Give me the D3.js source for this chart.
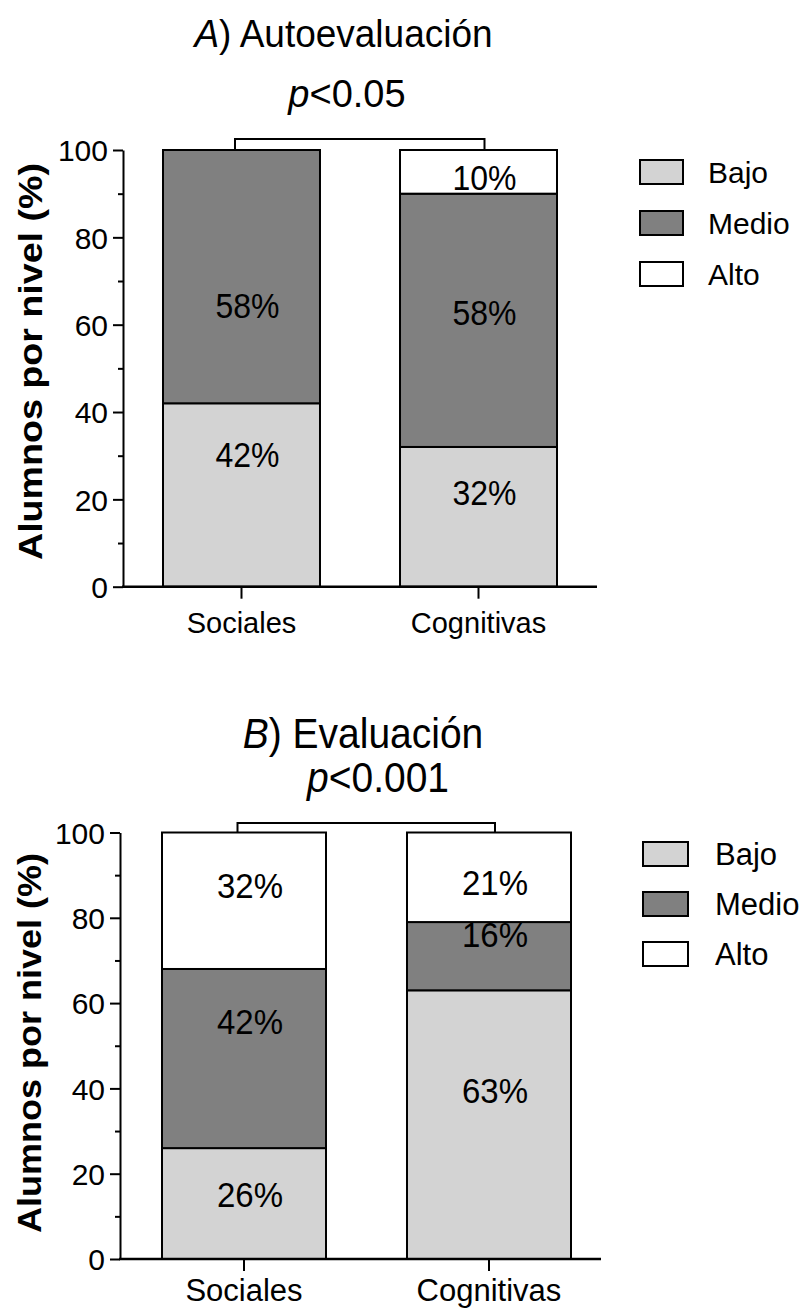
<!DOCTYPE html>
<html>
<head>
<meta charset="utf-8">
<script src="https://cdn.jsdelivr.net/npm/d3@7"></script>
<style>
  html, body { margin: 0; padding: 0; background: #fff; }
  svg { display: block; font-family: "Liberation Sans", Arial, sans-serif; }
</style>
</head>
<body>
<svg id="chart" width="808" height="1308"></svg>
<script>
// ---------- data ----------
const categories = ["Sociales", "Cognitivas"];
const levels = ["Bajo", "Medio", "Alto"];
const levelColors = ["#d3d3d3", "#808080", "#ffffff"];
const yTicks = [0, 20, 40, 60, 80, 100];
const yMinorTicks = [10, 30, 50, 70, 90];

// Panel A: Autoevaluación
const bajoA = [42, 32];
const medioA = [58, 58];
const altoA = [0, 10];
// label anchor (value units) per level, per category
const labelPosA = [[30.2, 21.5], [64.3, 62.7], [null, 93.8]];

// Panel B: Evaluación
const bajoB = [26, 63];
const medioB = [42, 16];
const altoB = [32, 21];
const labelPosB = [[15.2, 39.6], [55.8, 76.0], [87.7, 88.2]];

// ---------- drawing ----------
const svg = d3.select("#chart");

function drawPanel(cfg, series, labelPos) {
  const g = svg.append("g");
  const y = d3.scaleLinear().domain([0, 100]).range([cfg.y0, cfg.y100]);
  const x = d3.scaleBand().domain(categories).range(cfg.barRange)
    .paddingInner(cfg.padInner).paddingOuter(0);

  // stacked data
  const rows = categories.map((c, i) => {
    const r = { cat: c };
    levels.forEach((l, j) => r[l] = series[j][i]);
    return r;
  });
  const stack = d3.stack().keys(levels)(rows);

  // bars
  stack.forEach((layer, j) => {
    g.append("g").selectAll("rect")
      .data(layer.filter(d => d[1] - d[0] > 0))
      .join("rect")
      .attr("x", d => x(d.data.cat))
      .attr("width", x.bandwidth())
      .attr("y", d => y(d[1]))
      .attr("height", d => y(d[0]) - y(d[1]))
      .attr("fill", levelColors[j])
      .attr("stroke", "#000")
      .attr("stroke-width", 2);
  });

  // percent labels
  levels.forEach((l, j) => {
    categories.forEach((c, i) => {
      const v = series[j][i];
      if (!v) return;
      g.append("text")
        .attr("transform", `translate(${x(c) + x.bandwidth() / 2 + 6},${y(labelPos[j][i])}) scale(1,${cfg.pctStretch})`)
        .attr("dy", "0.36em")
        .attr("text-anchor", "middle")
        .attr("font-size", cfg.pctSize)
        .text(v + "%");
    });
  });

  // y axis
  const yAxis = g.append("g")
    .attr("transform", `translate(${cfg.axisX},0)`)
    .call(d3.axisLeft(y).tickValues(yTicks).tickSize(10).tickSizeOuter(0).tickPadding(5));
  yAxis.select(".domain").attr("stroke-width", 2);
  yAxis.selectAll(".tick line").attr("stroke-width", 2);
  yAxis.selectAll(".tick text").attr("font-size", cfg.tickSize)
    .attr("font-family", '"Liberation Sans", Arial, sans-serif').attr("dy", "0.36em");
  const yMinor = g.append("g")
    .attr("transform", `translate(${cfg.axisX},0)`)
    .call(d3.axisLeft(y).tickValues(yMinorTicks).tickSize(5).tickFormat(""));
  yMinor.select(".domain").remove();
  yMinor.selectAll(".tick line").attr("stroke-width", 2);

  // x axis
  g.append("line")
    .attr("x1", cfg.axisX - 1).attr("x2", cfg.xEnd)
    .attr("y1", cfg.y0).attr("y2", cfg.y0)
    .attr("stroke", "#000").attr("stroke-width", 2.5);
  const xAxis = g.append("g")
    .attr("transform", `translate(0,${cfg.y0})`)
    .call(d3.axisBottom(x).tickSize(12).tickSizeOuter(0).tickPadding(cfg.xPad));
  xAxis.select(".domain").remove();
  xAxis.selectAll(".tick line").attr("stroke-width", 2);
  xAxis.selectAll(".tick text").attr("font-size", cfg.catSize)
    .attr("font-family", '"Liberation Sans", Arial, sans-serif');

  // y-axis title
  g.append("text")
    .attr("transform", `translate(${cfg.yTitleX},${cfg.yTitleY}) rotate(-90)`)
    .attr("text-anchor", "middle")
    .attr("font-size", 34)
    .attr("font-weight", "bold")
    .attr("textLength", cfg.yTitleLen)
    .attr("lengthAdjust", "spacingAndGlyphs")
    .text("Alumnos por nivel (%)");

  // significance bracket
  const c0 = x(categories[0]) + x.bandwidth() / 2 - 6.5;
  const c1 = x(categories[1]) + x.bandwidth() / 2 + 6;
  g.append("path")
    .attr("d", `M${c0},${y(100)} V${cfg.bracketY} H${c1} V${y(100)}`)
    .attr("fill", "none").attr("stroke", "#000").attr("stroke-width", 2);

  // titles
  const t1 = g.append("text")
    .attr("transform", `translate(${cfg.titleX},${cfg.titleY}) scale(1,${cfg.titleStretch})`)
    .attr("text-anchor", "middle").attr("font-size", cfg.titleSize);
  t1.append("tspan").attr("font-style", "italic").text(cfg.letter);
  t1.append("tspan").text(") " + cfg.title);
  const t2 = g.append("text")
    .attr("transform", `translate(${cfg.pX},${cfg.pY}) scale(1,${cfg.titleStretch})`)
    .attr("text-anchor", "middle").attr("font-size", cfg.pSize);
  t2.append("tspan").attr("font-style", "italic").text("p");
  t2.append("tspan").text(cfg.pText);

  // legend
  const lg = g.append("g");
  levels.forEach((l, j) => {
    lg.append("rect")
      .attr("x", cfg.legX).attr("y", cfg.legY[j])
      .attr("width", cfg.legW).attr("height", 24)
      .attr("fill", levelColors[j]).attr("stroke", "#000").attr("stroke-width", 2);
    lg.append("text")
      .attr("x", cfg.legTextX).attr("y", cfg.legY[j] + 12)
      .attr("dy", "0.36em")
      .attr("font-size", cfg.legSize)
      .text(l);
  });
}

drawPanel({
  y0: 586.7, y100: 150, axisX: 123, xEnd: 597,
  barRange: [163, 557], padInner: 0.3376,
  pctSize: 32, pctStretch: 1.08, tickSize: 30, catSize: 29, xPad: 14,
  yTitleX: 42, yTitleY: 361.5, yTitleLen: 397,
  bracketY: 139,
  letter: "A", title: "Autoevaluación", titleX: 343.5, titleY: 47, titleSize: 37, titleStretch: 1.04,
  pText: "<0.05", pX: 347, pY: 107, pSize: 38,
  legX: 640, legW: 43, legY: [160, 211, 262], legTextX: 708, legSize: 30
}, [bajoA, medioA, altoA], labelPosA);

drawPanel({
  y0: 1259, y100: 832.5, axisX: 120, xEnd: 601,
  barRange: [162, 571], padInner: 0.3306,
  pctSize: 33, pctStretch: 1.06, tickSize: 30, catSize: 31, xPad: 8,
  yTitleX: 41, yTitleY: 1043, yTitleLen: 380,
  bracketY: 823,
  letter: "B", title: "Evaluación", titleX: 363, titleY: 748, titleSize: 39, titleStretch: 1.1,
  pText: "<0.001", pX: 378, pY: 792, pSize: 39,
  legX: 643, legW: 45, legY: [842, 892, 942], legTextX: 715, legSize: 31
}, [bajoB, medioB, altoB], labelPosB);
</script>
</body>
</html>
